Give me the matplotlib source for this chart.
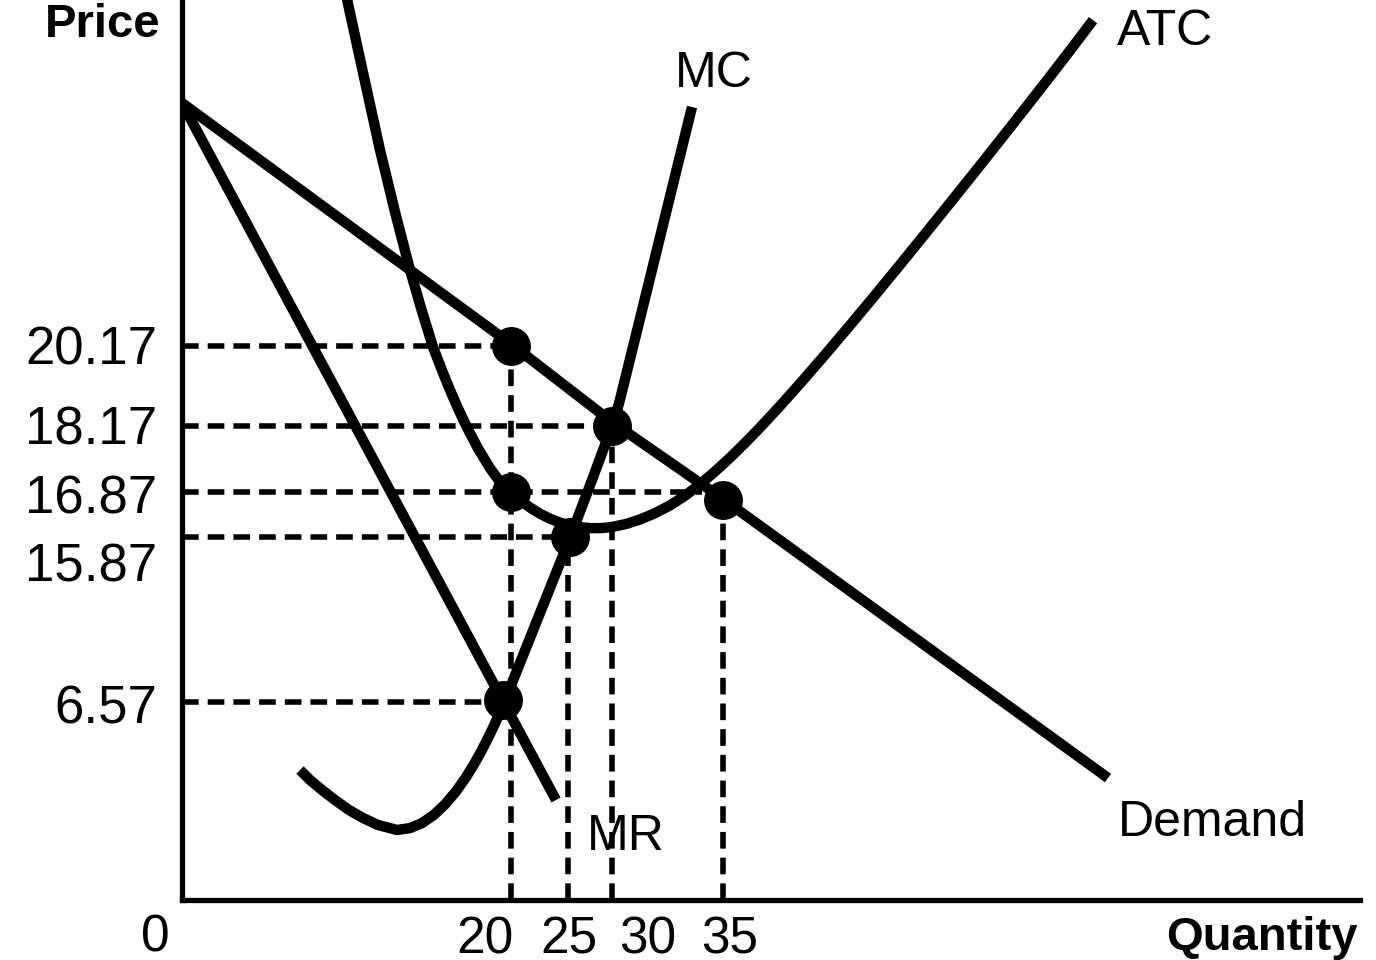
import matplotlib
matplotlib.use('Agg')
import matplotlib.pyplot as plt

plt.rcParams['lines.scale_dashes'] = False

# Schematic diagram units: distance to the right of / above the origin
demand_q = [0, 329, 430, 541, 926]
demand_p = [797, 556, 478, 401, 122]

mr_q = [0, 374]
mr_p = [797, 100]

mc_q = [118, 128, 140, 153, 167, 181, 196, 215, 228, 240, 252, 263, 274,
        284, 292, 299, 306, 312, 318, 323, 331, 339, 351, 363, 376, 388,
        399, 410, 420, 430, 434, 438, 460, 485, 510]
mc_p = [130, 120, 110, 100, 90, 82, 75, 70, 71.9, 76.9, 85.2, 95.6, 108.6,
        122.8, 135.8, 148.3, 161.9, 174.4, 187.8, 199.5, 219.5, 239.5, 269.5,
        299.5, 332, 362, 391, 420, 447, 474, 486, 500.4, 589.5, 691.3, 793]

atc_q = [163, 180, 198, 213, 228, 239, 251, 260, 268, 276, 285, 296, 308,
         318, 329, 338, 348, 358, 368, 378, 388, 398, 408, 419, 430, 444,
         458, 473, 488, 503, 518, 533, 548, 563, 578, 598, 618, 643, 668,
         693, 718, 743, 768, 793, 818, 843, 868, 890, 911]
atc_p = [910, 832, 750, 688, 630, 592, 553, 529.6, 510, 491.6, 472.5, 451.6,
         431.8, 418, 407.6, 399.9, 392.5, 386.3, 381.3, 377.4, 374.6, 372.8,
         371.9, 371.9, 373, 376, 380.5, 386.8, 394.6, 404.3, 415.7, 428.5,
         442.3, 457, 472.4, 494, 516.4, 545.2, 574.7, 604.7, 635.2, 666, 697,
         728.2, 759.7, 791.5, 823.5, 852.1, 879.8]

# price guides
price_labels = ['20.17', '18.17', '16.87', '15.87', '6.57']
price_levels = [554, 474, 408, 363, 198]
price_ends = [329, 430, 520, 388, 321]
price_label_pos = [555, 475, 406, 338, 196]

# quantity guides
qty_labels = ['20', '25', '30', '35']
qty_levels = [329, 386, 430, 541]
qty_tops = [554, 363, 474, 400]
qty_label_pos = [303, 387, 466, 548]

# equilibrium / intersection dots
dot_q = [329, 430, 329, 388, 321, 541]
dot_p = [554, 474, 408, 363, 200, 400]

# curve labels
curve_names = ['MC', 'ATC', 'Demand', 'MR']
curve_name_q = [493, 935, 936, 405]
curve_name_p = [813, 855, 64, 50]

fig = plt.figure(figsize=(13.76, 9.6), dpi=100)
ax = fig.add_axes([182 / 1376, 60 / 960, 1178 / 1376, 900 / 960])
ax.set_xlim(0, 1178)
ax.set_ylim(0, 900)

for side in ['top', 'right']:
    ax.spines[side].set_visible(False)
for side in ['left', 'bottom']:
    ax.spines[side].set_linewidth(3.8)

dash = dict(color='black', lw=4, dashes=(12, 6.5), zorder=2)
for lvl, end in zip(price_levels, price_ends):
    ax.plot([0, end], [lvl, lvl], **dash)
for lvl, top in zip(qty_levels, qty_tops):
    ax.plot([lvl, lvl], [0, top], **dash)

curve = dict(color='black', lw=7.5, solid_capstyle='butt', solid_joinstyle='round', zorder=3)
ax.plot(demand_q, demand_p, **curve)
ax.plot(mr_q, mr_p, **curve)
ax.plot(mc_q, mc_p, **curve)
ax.plot(atc_q, atc_p, **curve)

ax.plot(dot_q, dot_p, 'o', color='black', markersize=27, zorder=4)

# ticks
ax.set_yticks(price_label_pos, labels=price_labels)
ax.set_xticks(qty_label_pos, labels=qty_labels)
ax.tick_params(axis='both', length=0)
ax.tick_params(axis='y', pad=18, labelsize=38)
ax.tick_params(axis='x', pad=11, labelsize=37)
for lab in ax.get_xticklabels() + ax.get_yticklabels():
    lab.set_fontfamily(['Liberation Sans', 'DejaVu Sans'])

for name, q, p in zip(curve_names, curve_name_q, curve_name_p):
    ax.text(q, p, name, fontsize=36, ha='left', va='baseline',
            family=['Liberation Sans Narrow', 'Liberation Sans', 'DejaVu Sans'])

ax.text(-22, 863, 'Price', fontsize=34, fontweight='bold', ha='right', va='baseline',
        family=['Liberation Sans', 'DejaVu Sans'], clip_on=False)
ax.text(1176, -50, 'Quantity', fontsize=34, fontweight='bold', ha='right', va='baseline',
        family=['Liberation Sans', 'DejaVu Sans'], clip_on=False)
ax.text(-27, -38, '0', fontsize=37, ha='center', va='center',
        family=['Liberation Sans', 'DejaVu Sans'], clip_on=False)

fig.savefig('out.png', dpi=100)
